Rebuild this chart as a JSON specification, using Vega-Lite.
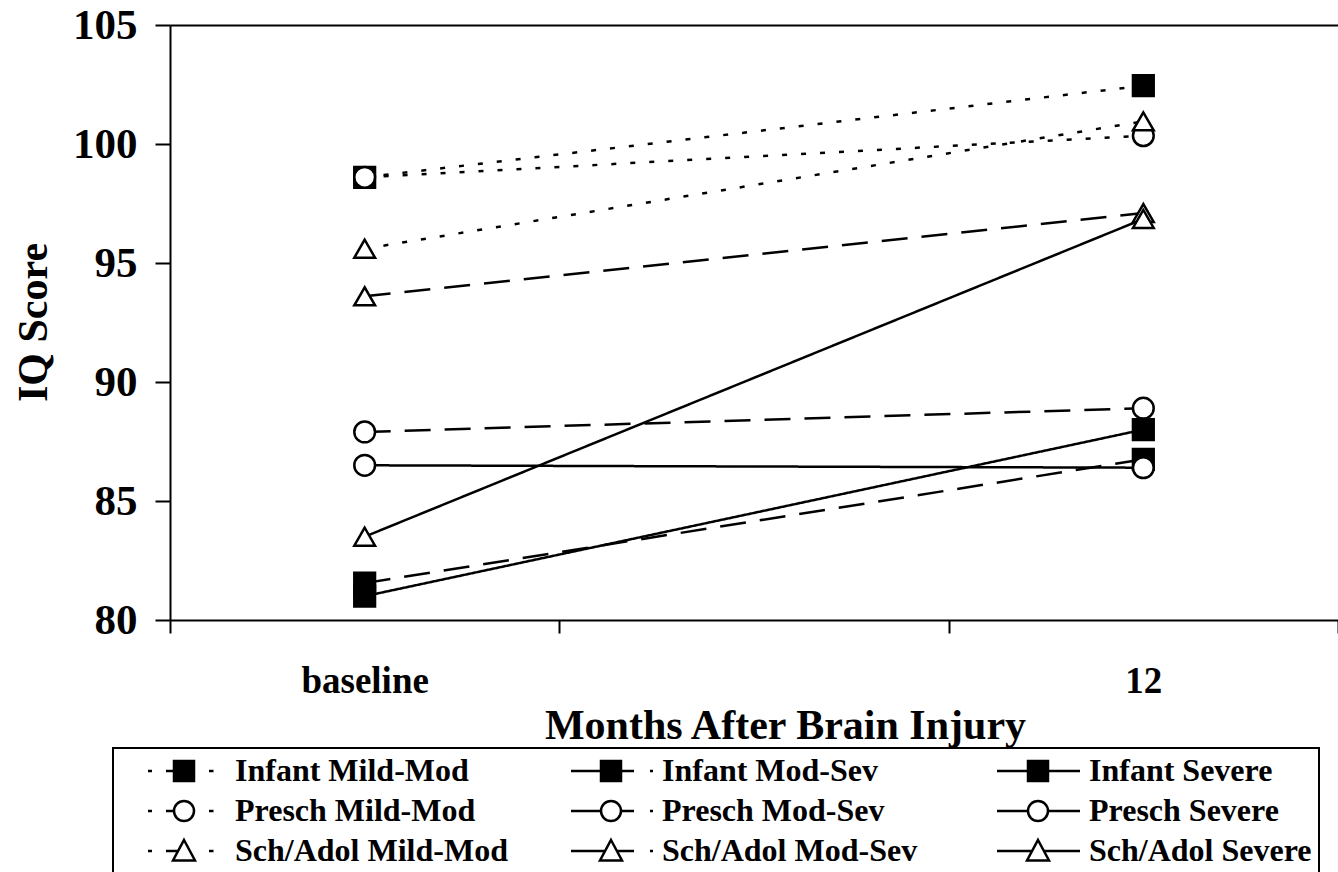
{
  "$schema": "https://vega.github.io/schema/vega-lite/v6.json",
  "autosize": {"type": "none"},
  "padding": {"left": 170, "top": 25, "right": 0, "bottom": 252},
  "width": 1168,
  "height": 595,
  "background": "white",
  "data": {
    "values": [
      {"series": "Infant Mild-Mod", "age": "Infant", "severity": "Mild-Mod", "time": "baseline", "iq": 98.6},
      {"series": "Infant Mild-Mod", "age": "Infant", "severity": "Mild-Mod", "time": "12", "iq": 102.45},
      {"series": "Infant Mod-Sev", "age": "Infant", "severity": "Mod-Sev", "time": "baseline", "iq": 81.55},
      {"series": "Infant Mod-Sev", "age": "Infant", "severity": "Mod-Sev", "time": "12", "iq": 86.75},
      {"series": "Infant Severe", "age": "Infant", "severity": "Severe", "time": "baseline", "iq": 81.0},
      {"series": "Infant Severe", "age": "Infant", "severity": "Severe", "time": "12", "iq": 88.0},
      {"series": "Presch Mild-Mod", "age": "Presch", "severity": "Mild-Mod", "time": "baseline", "iq": 98.6},
      {"series": "Presch Mild-Mod", "age": "Presch", "severity": "Mild-Mod", "time": "12", "iq": 100.35},
      {"series": "Presch Mod-Sev", "age": "Presch", "severity": "Mod-Sev", "time": "baseline", "iq": 87.9},
      {"series": "Presch Mod-Sev", "age": "Presch", "severity": "Mod-Sev", "time": "12", "iq": 88.9},
      {"series": "Presch Severe", "age": "Presch", "severity": "Severe", "time": "baseline", "iq": 86.5},
      {"series": "Presch Severe", "age": "Presch", "severity": "Severe", "time": "12", "iq": 86.4},
      {"series": "Sch/Adol Mild-Mod", "age": "Sch/Adol", "severity": "Mild-Mod", "time": "baseline", "iq": 95.6},
      {"series": "Sch/Adol Mild-Mod", "age": "Sch/Adol", "severity": "Mild-Mod", "time": "12", "iq": 100.95},
      {"series": "Sch/Adol Mod-Sev", "age": "Sch/Adol", "severity": "Mod-Sev", "time": "baseline", "iq": 93.6},
      {"series": "Sch/Adol Mod-Sev", "age": "Sch/Adol", "severity": "Mod-Sev", "time": "12", "iq": 97.1},
      {"series": "Sch/Adol Severe", "age": "Sch/Adol", "severity": "Severe", "time": "baseline", "iq": 83.5},
      {"series": "Sch/Adol Severe", "age": "Sch/Adol", "severity": "Severe", "time": "12", "iq": 96.85}
    ]
  },
  "layer": [
    {
      "mark": {"type": "line", "color": "black", "strokeWidth": 2.5},
      "encoding": {
        "x": {
          "field": "time", "type": "nominal",
          "scale": {"type": "band", "domain": ["baseline", "6", "12"], "paddingInner": 0, "paddingOuter": 0},
          "axis": {
            "orient": "bottom",
            "title": "Months After Brain Injury",
            "labelExpr": "datum.value == '6' ? '' : datum.value",
            "labelAngle": 0,
            "tickBand": "extent",
            "tickSize": 13,
            "labelPadding": 30,
            "labelFontSize": 37,
            "titleFontSize": 42,
            "titleX": 615,
            "titleY": 118,
            "titleBaseline": "alphabetic",
            "titleAlign": "center"
          }
        },
        "y": {
          "field": "iq", "type": "quantitative",
          "scale": {"domain": [80, 105], "nice": false, "zero": false},
          "axis": {
            "title": "IQ Score",
            "values": [80, 85, 90, 95, 100, 105],
            "tickSize": 15,
            "labelPadding": 18,
            "labelFontSize": 43,
            "titleFontSize": 42,
            "titleX": -137,
            "titleY": 297,
            "titleAngle": 270,
            "titleBaseline": "middle",
            "titleAlign": "center"
          }
        },
        "detail": {"field": "series"},
        "strokeDash": {
          "field": "severity", "type": "nominal",
          "scale": {"domain": ["Mild-Mod", "Mod-Sev", "Severe"], "range": [[5, 14], [26, 14], [1, 0]]},
          "legend": null
        }
      }
    },
    {
      "mark": {"type": "point", "size": 430, "filled": true, "stroke": "black", "strokeWidth": 2.5, "opacity": 1},
      "encoding": {
        "x": {
          "field": "time", "type": "nominal",
          "axis": {"orient": "top", "labels": false, "ticks": false, "title": null, "domain": true}
        },
        "y": {"field": "iq", "type": "quantitative"},
        "shape": {
          "field": "age", "type": "nominal",
          "scale": {"domain": ["Infant", "Presch", "Sch/Adol"], "range": ["square", "circle", "triangle-up"]},
          "legend": null
        },
        "fill": {
          "field": "age", "type": "nominal",
          "scale": {"domain": ["Infant", "Presch", "Sch/Adol"], "range": ["black", "white", "white"]},
          "legend": null
        }
      }
    },
    {
      "mark": {"type": "point", "size": 400, "filled": false, "opacity": 0},
      "encoding": {
        "x": {"field": "time", "type": "nominal", "axis": null},
        "y": {"field": "iq", "type": "quantitative"},
        "shape": {
          "field": "series", "type": "nominal",
          "scale": {
            "domain": ["Infant Mild-Mod", "Infant Mod-Sev", "Infant Severe", "Presch Mild-Mod", "Presch Mod-Sev", "Presch Severe", "Sch/Adol Mild-Mod", "Sch/Adol Mod-Sev", "Sch/Adol Severe"],
            "range": [
              "M-3.6,0H-3.2M-1.8,0H-1.05M2.5,0H2.95M-1,-1H1V1H-1Z",
              "M-4,0H-1.05M1.05,0H2.3M3.9,0H4.2M-1,-1H1V1H-1Z",
              "M-4.1,0H-1M1,0H4.2M-1,-1H1V1H-1Z",
              "M-3.6,0H-3.2M-1.8,0H-1.05M2.5,0H2.95M1,0A1,1,0,1,1,-1,0A1,1,0,1,1,1,0Z",
              "M-4,0H-1.05M1.05,0H2.3M3.9,0H4.2M1,0A1,1,0,1,1,-1,0A1,1,0,1,1,1,0Z",
              "M-4.1,0H-1M1,0H4.2M1,0A1,1,0,1,1,-1,0A1,1,0,1,1,1,0Z",
              "M-3.6,0H-3.2M-1.8,0H-0.6M2.5,0H2.95M0,-1.1L1.1,0.95L-1.1,0.95Z",
              "M-4,0H-0.6M0.6,0H2.3M3.9,0H4.2M0,-1.1L1.1,0.95L-1.1,0.95Z",
              "M-4.1,0H-0.6M0.6,0H4.2M0,-1.1L1.1,0.95L-1.1,0.95Z"
            ]
          },
          "legend": {
            "title": null,
            "direction": "horizontal",
            "encoding": {
              "symbols": {
                "opacity": {"value": 1},
                "fill": {"value": {"expr": "indexof(datum.value,'Infant')==0?'black':'white'"}},
                "stroke": {"value": "black"},
                "strokeWidth": {"value": 2.5}
              }
            }
          }
        }
      }
    }
  ],
  "resolve": {"axis": {"x": "independent"}, "scale": {"shape": "independent"}},
  "config": {
    "view": {"stroke": null},
    "font": "Liberation Serif",
    "axis": {
      "domainColor": "black",
      "domainWidth": 2,
      "tickColor": "black",
      "tickWidth": 2,
      "grid": false,
      "labelFont": "Liberation Serif",
      "labelFontWeight": "bold",
      "labelColor": "black",
      "titleFont": "Liberation Serif",
      "titleFontWeight": "bold",
      "titleColor": "black"
    },
    "legend": {
      "orient": "none",
      "legendX": -57,
      "legendY": 723,
      "columns": 3,
      "gridAlign": "all",
      "columnPadding": 39,
      "rowPadding": 8,
      "padding": 7,
      "symbolSize": 400,
      "symbolOffset": 48,
      "labelOffset": 35,
      "labelFont": "Liberation Serif",
      "labelFontWeight": "bold",
      "labelFontSize": 32,
      "labelColor": "black",
      "labelLimit": 500,
      "symbolStrokeColor": "black",
      "symbolStrokeWidth": 2.5,
      "strokeColor": "black",
      "strokeWidth": 2
    }
  }
}
